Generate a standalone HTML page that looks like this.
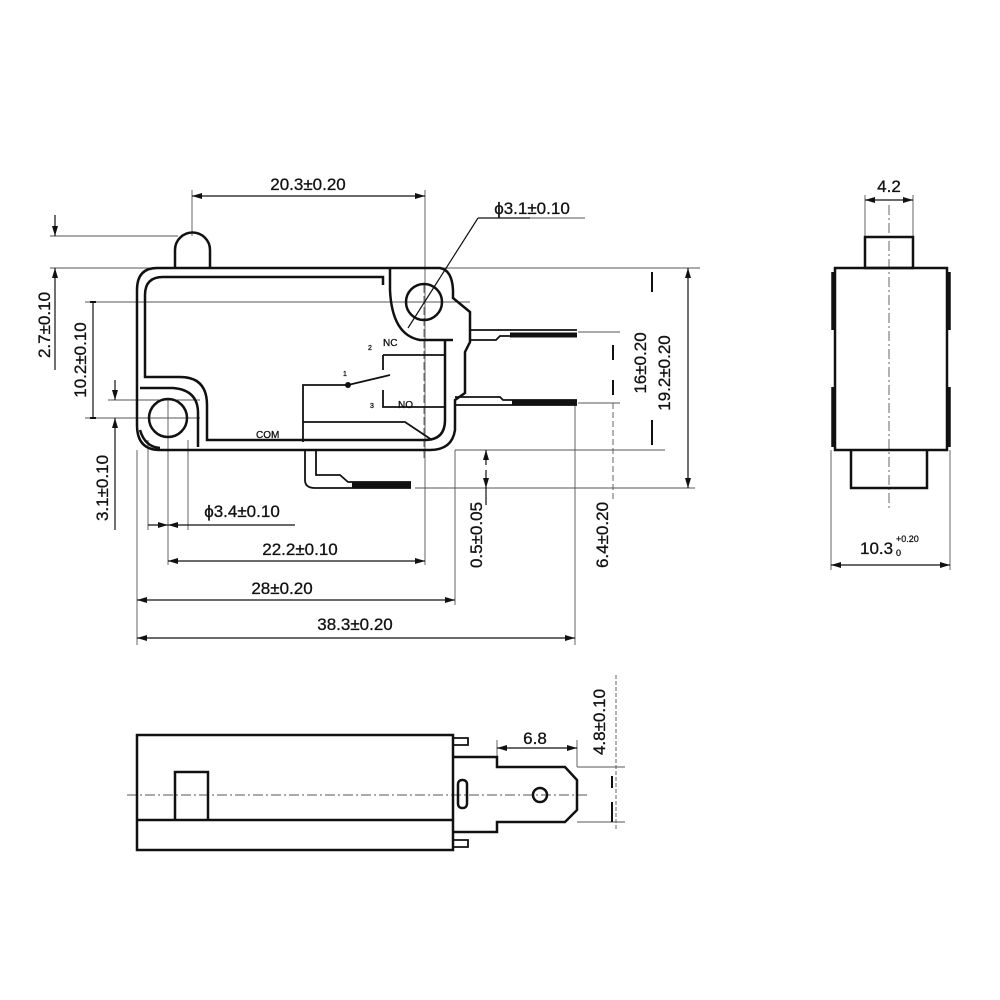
<!DOCTYPE html>
<html><head><meta charset="utf-8"><style>
html,body{margin:0;padding:0;background:#fff}
svg{display:block}
text{font-family:"Liberation Sans",sans-serif;font-size:17px;fill:#111;stroke:#111;stroke-width:0.3}
</style></head><body>
<svg width="1000" height="1000" viewBox="0 0 1000 1000" xmlns="http://www.w3.org/2000/svg">
<defs>
<marker id="a" viewBox="0 0 10 6" refX="10" refY="3" markerWidth="14" markerHeight="6" orient="auto-start-reverse" markerUnits="userSpaceOnUse"><path d="M0,0 L10,3 L0,6z" fill="#111"/></marker>
</defs>
<g fill="none" stroke="#111" stroke-width="1.2">
<g stroke="#555" stroke-width="0.9">
<line x1="192" y1="190" x2="192" y2="236"/>
<line x1="425" y1="190" x2="425" y2="565"/>
<line x1="50" y1="236" x2="178" y2="236"/>
<line x1="50" y1="268" x2="700" y2="268"/>
<line x1="85" y1="302" x2="470" y2="302"/>
<line x1="85" y1="418" x2="200" y2="418"/>
<line x1="108" y1="400" x2="200" y2="400"/>
<line x1="455" y1="450" x2="665" y2="450"/>
<line x1="415" y1="488" x2="695" y2="488"/>
<line x1="578" y1="332" x2="620" y2="332"/>
<line x1="578" y1="403" x2="620" y2="403"/>
<line x1="137" y1="450" x2="137" y2="645"/>
<line x1="148" y1="440" x2="148" y2="530"/>
<line x1="188" y1="440" x2="188" y2="530"/>
<line x1="168" y1="400" x2="168" y2="565"/>
<line x1="455" y1="450" x2="455" y2="605"/>
<line x1="575" y1="403" x2="575" y2="645"/>
<line x1="613" y1="403" x2="613" y2="500" stroke-dasharray="6 3"/>
<line x1="424" y1="285" x2="424" y2="460" stroke-dasharray="8 3"/>
<line x1="530" y1="218" x2="585" y2="218"/>
</g>
<line x1="192" y1="196" x2="425" y2="196" marker-start="url(#a)" marker-end="url(#a)"/>
<line x1="55" y1="215" x2="55" y2="236" marker-end="url(#a)"/>
<line x1="55" y1="290" x2="55" y2="268" marker-end="url(#a)"/>
<line x1="55" y1="290" x2="55" y2="370"/>
<line x1="93" y1="302" x2="93" y2="418"/>
<path d="M90,302 h6 M90,418 h6" stroke-width="2"/>
<line x1="115" y1="380" x2="115" y2="400" marker-end="url(#a)"/>
<line x1="115" y1="440" x2="115" y2="418" marker-end="url(#a)"/>
<line x1="115" y1="440" x2="115" y2="530"/>
<line x1="148" y1="525" x2="168" y2="525" marker-end="url(#a)"/>
<line x1="188" y1="525" x2="168" y2="525" marker-end="url(#a)"/>
<line x1="188" y1="525" x2="295" y2="525"/>
<line x1="168" y1="561" x2="425" y2="561" marker-start="url(#a)" marker-end="url(#a)"/>
<line x1="137" y1="600" x2="455" y2="600" marker-start="url(#a)" marker-end="url(#a)"/>
<line x1="137" y1="638" x2="575" y2="638" marker-start="url(#a)" marker-end="url(#a)"/>
<line x1="486" y1="465" x2="486" y2="450" marker-end="url(#a)"/>
<line x1="486" y1="470" x2="486" y2="488" marker-end="url(#a)"/>
<line x1="486" y1="488" x2="486" y2="505"/>
<path d="M613,345 v15 M613,380 v15" stroke-width="2"/>
<path d="M652,272 v20 M652,420 v25" stroke-width="2"/>
<line x1="688" y1="268" x2="688" y2="488" marker-start="url(#a)" marker-end="url(#a)"/>
<line x1="478" y1="218" x2="408" y2="328"/>
<line x1="478" y1="218" x2="530" y2="218"/>

<g stroke-width="2.5">
<path d="M175,268 V250 a17,17 0 0 1 35,0 V268"/>
<path d="M157,268 H440 Q452,270 453,290 V298 L470,312 V342 L465,352 V393 L455,400 V430 Q452,450 430,450 H160 Q137,450 137,425 V290 Q137,268 157,268 Z"/>
<path d="M163,277 H383 V285"/>
<path d="M163,277 Q145,277 145,295 V377 H180 Q207,377 207,405 V440 H425"/>
<path d="M390,268 V290 Q392,335 420,340 H453"/>
<path d="M140,388 H173 Q198,390 198,413 V447"/>
<path d="M140,430 Q145,447 160,448"/>
<circle cx="168" cy="418" r="19"/>
<circle cx="424" cy="302" r="18"/>
<path d="M425,440 Q445,440 445,420 V340"/>
<path d="M383,355 H445 M383,355 v15 M383,390 v17 H445 M348,385 H303 V442 M303,422 H405 L432,440 M348,385 L390,375" stroke-width="1.8"/>
<path d="M470,330 H577 M470,340 H496 L500,336 H577" stroke-width="1.8"/>
<path d="M510,335 H577" stroke-width="5"/>
<path d="M455,397 H500 L503,400 H577 M455,405 H577" stroke-width="1.8"/>
<path d="M512,402 H577" stroke-width="5"/>
<path d="M305,450 V480 Q305,488 315,488 H411 M316,450 V475 H340 L348,482 H411" stroke-width="1.8"/>
<path d="M352,485 H411" stroke-width="5"/>
</g>

<g stroke="#555" stroke-width="0.9">
<line x1="889" y1="205" x2="889" y2="510" stroke-dasharray="10 3 2 3"/>
<line x1="865" y1="195" x2="865" y2="237"/>
<line x1="913" y1="195" x2="913" y2="237"/>
<line x1="831" y1="450" x2="831" y2="570"/>
<line x1="950" y1="450" x2="950" y2="570"/>
</g>
<line x1="865" y1="200" x2="913" y2="200" marker-start="url(#a)" marker-end="url(#a)"/>
<line x1="831" y1="565" x2="950" y2="565" marker-start="url(#a)" marker-end="url(#a)"/>
<g stroke-width="2.5">
<rect x="865" y="237" width="48" height="31"/>
<rect x="835" y="268" width="112" height="182"/>
<path d="M833,272 V330 M833,387 V447 M949,272 V330 M949,387 V447" stroke-width="3.5"/>
<path d="M851,450 V488 H927 V450"/>
</g>

<g stroke="#555" stroke-width="0.9">
<line x1="127" y1="795" x2="590" y2="795" stroke-dasharray="10 3 2 3"/>
<line x1="616" y1="675" x2="616" y2="830" stroke-dasharray="4 2"/>
<line x1="577" y1="740" x2="577" y2="767"/>
<line x1="577" y1="767" x2="625" y2="767"/>
<line x1="577" y1="822" x2="625" y2="822"/>
<line x1="497" y1="740" x2="497" y2="757"/>
</g>
<line x1="497" y1="748" x2="577" y2="748" marker-start="url(#a)" marker-end="url(#a)"/>
<path d="M612,776 v12 M612,802 v20" stroke-width="2"/>
<g stroke-width="2.5">
<rect x="137" y="735" width="316" height="115"/>
<path d="M137,820 H453"/>
<path d="M175,820 V772 H208 V820"/>
<path d="M453,738 H468 V745 H453 M453,840 H468 V847 H453" stroke-width="1.8"/>
<path d="M453,757 H497 V767 H565 L577,780 V810 L565,822 H497 V832 H453"/>
<rect x="458" y="780" width="9" height="28" rx="4"/>
<circle cx="540" cy="795" r="7"/>
</g>
</g>

<text x="308" y="190" text-anchor="middle">20.3±0.20</text>
<text x="532" y="214" text-anchor="middle">ϕ3.1±0.10</text>
<text x="242" y="517" text-anchor="middle">ϕ3.4±0.10</text>
<text x="300" y="555" text-anchor="middle">22.2±0.10</text>
<text x="282" y="594" text-anchor="middle">28±0.20</text>
<text x="355" y="630" text-anchor="middle">38.3±0.20</text>
<text transform="translate(50,325) rotate(-90)" text-anchor="middle">2.7±0.10</text>
<text transform="translate(86,360) rotate(-90)" text-anchor="middle">10.2±0.10</text>
<text transform="translate(108,488) rotate(-90)" text-anchor="middle">3.1±0.10</text>
<text transform="translate(482,535) rotate(-90)" text-anchor="middle">0.5±0.05</text>
<text transform="translate(608,535) rotate(-90)" text-anchor="middle">6.4±0.20</text>
<text transform="translate(646,363) rotate(-90)" text-anchor="middle">16±0.20</text>
<text transform="translate(670,373) rotate(-90)" text-anchor="middle">19.2±0.20</text>
<text transform="translate(605,722) rotate(-90)" text-anchor="middle">4.8±0.10</text>
<text x="535" y="744" text-anchor="middle">6.8</text>
<text x="889" y="192" text-anchor="middle">4.2</text>
<text x="860" y="554">10.3</text>
<text x="896" y="542" style="font-size:9px">+0.20</text>
<text x="896" y="556" style="font-size:9px">0</text>
<text x="383" y="346" style="font-size:10px">NC</text>
<text x="398" y="408" style="font-size:10px">NO</text>
<text x="256" y="438" style="font-size:10px">COM</text>
<text x="368" y="350" style="font-size:7px">2</text>
<text x="343" y="376" style="font-size:7px">1</text>
<text x="370" y="408" style="font-size:7px">3</text>
<circle cx="348" cy="385" r="3" fill="#111"/>
</svg>
</body></html>
